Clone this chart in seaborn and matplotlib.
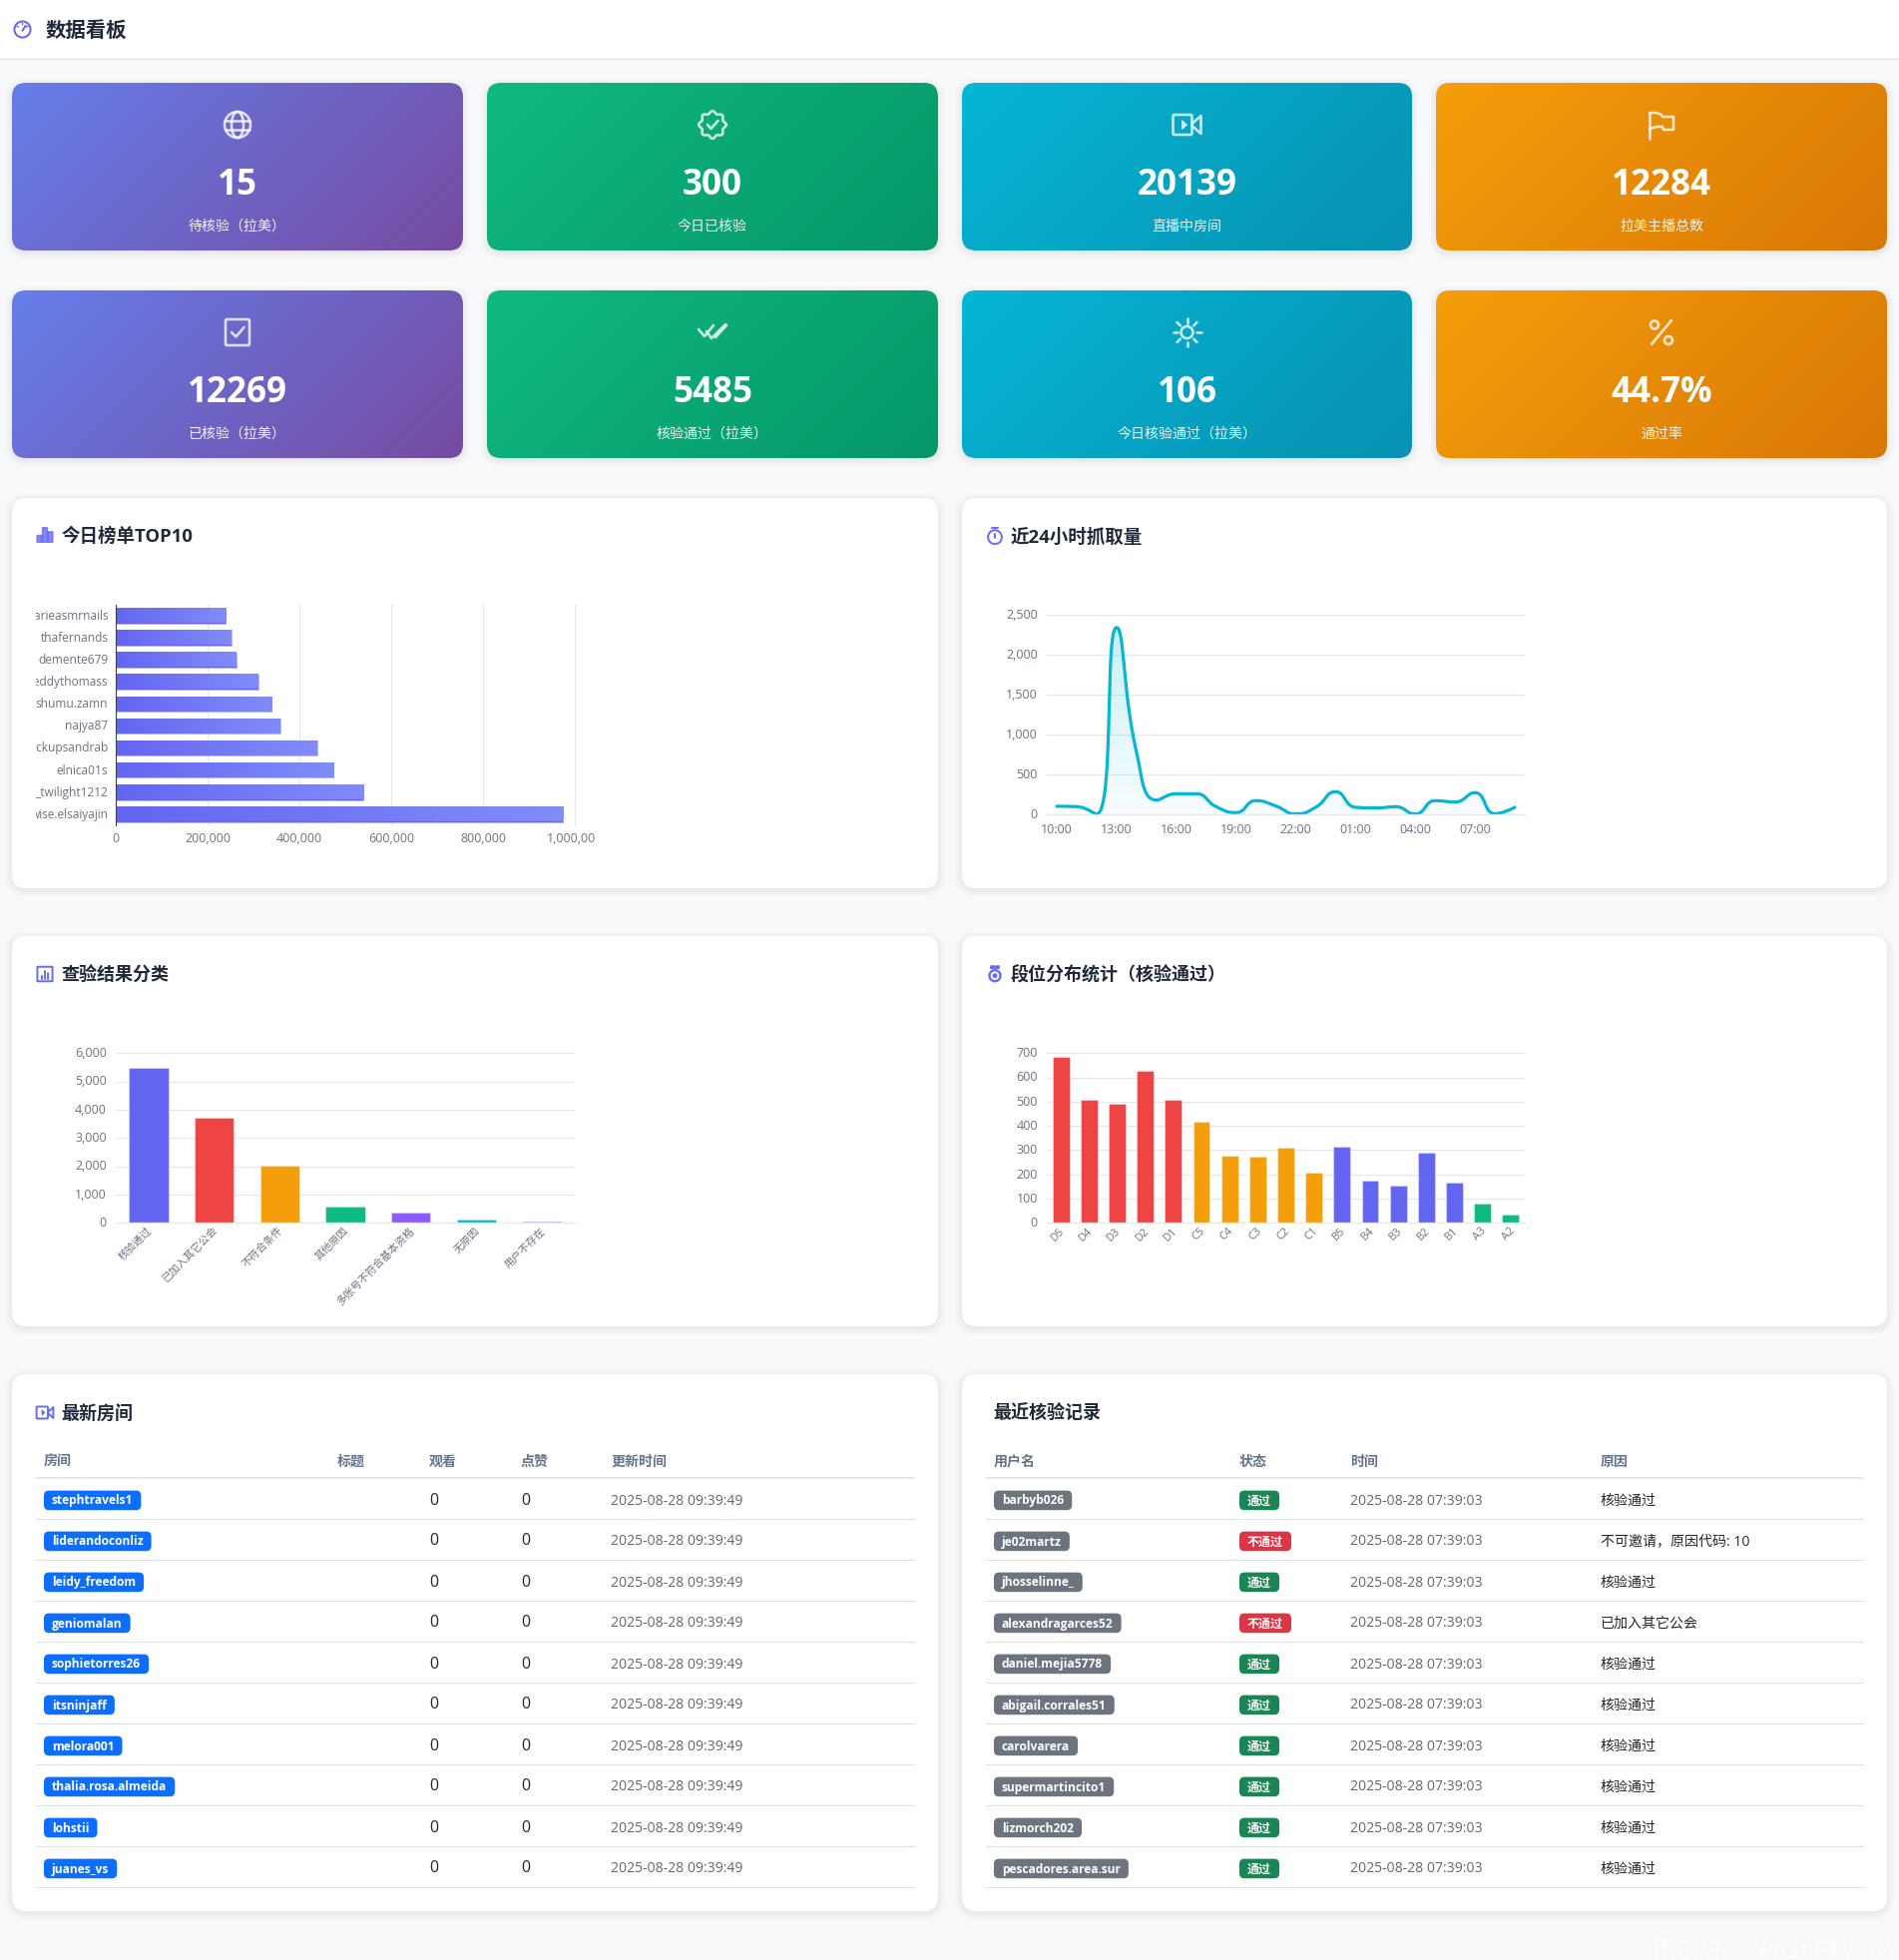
import numpy as np
import pandas as pd
import matplotlib
matplotlib.use("Agg")
import matplotlib.pyplot as plt
import seaborn as sns
from matplotlib.patches import FancyBboxPatch, Rectangle, Circle, Ellipse, Polygon
from matplotlib.lines import Line2D
from matplotlib.transforms import Bbox, ScaledTranslation
from matplotlib.ticker import FixedLocator, NullFormatter

# ---------------- data ----------------
stat_values = ["15", "300", "20139", "12284", "12269", "5485", "106", "44.7%"]
stat_labels = ["待核验（拉美）", "今日已核验", "直播中房间", "拉美主播总数",
               "已核验（拉美）", "核验通过（拉美）", "今日核验通过（拉美）", "通过率"]
top_names = ["marieasmrnails", "thafernands", "demente679", "freddythomass", "shumu.zamn",
             "najya87", "pickupsandrab", "elnica01s", "_twilight1212", "wise.elsaiyajin"]
top_values = [240000, 252000, 262000, 310000, 340000, 358000, 439000, 474000, 540000, 974000]
top_ticks = [0, 200000, 400000, 600000, 800000, 1000000]

hours = ["10:00", "11:00", "12:00", "13:00", "14:00", "15:00", "16:00", "17:00",
         "18:00", "19:00", "20:00", "21:00", "22:00", "23:00", "00:00", "01:00",
         "02:00", "03:00", "04:00", "05:00", "06:00", "07:00", "08:00", "09:00"]
hour_counts = [105, 100, 5, 2345, 790, 183, 262, 262, 100, 25, 175, 108,
               8, 92, 287, 92, 83, 100, 8, 175, 158, 275, 12, 92]
hour_ticks = [0, 500, 1000, 1500, 2000, 2500]

result_names = ["核验通过", "已加入其它公会", "不符合条件", "其他原因", "多账号不符合基本资格", "无原因", "用户不存在"]
result_counts = [5485, 3700, 2040, 570, 375, 110, 40]
result_colors = ["#6366f1", "#ef4444", "#f59e0b", "#10b981", "#8b5cf6", "#06b6d4", "#6366f1"]
result_ticks = [0, 1000, 2000, 3000, 4000, 5000, 6000]

tier_names = ["D5", "D4", "D3", "D2", "D1", "C5", "C4", "C3", "C2", "C1", "B5", "B4", "B3", "B2", "B1", "A3", "A2"]
tier_counts = [683, 506, 490, 626, 506, 416, 278, 273, 309, 206, 313, 176, 152, 291, 166, 80, 33]
tier_ticks = [0, 100, 200, 300, 400, 500, 600, 700]
tier_palette = {"D": "#ef4444", "C": "#f59e0b", "B": "#6366f1", "A": "#10b981"}

rooms = ["stephtravels1", "liderandoconliz", "leidy_freedom", "geniomalan", "sophietorres26",
         "itsninjaff", "melora001", "thalia.rosa.almeida", "lohstii", "juanes_vs"]
room_views = [0] * 10
room_likes = [0] * 10
room_times = ["2025-08-28 09:39:49"] * 10

users = ["barbyb026", "je02martz", "jhosselinne_", "alexandragarces52", "daniel.mejia5778",
         "abigail.corrales51", "carolvarera", "supermartincito1", "lizmorch202", "pescadores.area.sur"]
user_status = ["通过", "不通过", "通过", "不通过", "通过", "通过", "通过", "通过", "通过", "通过"]
user_times = ["2025-08-28 07:39:03"] * 10
user_reasons = ["核验通过", "不可邀请，原因代码: 10", "核验通过", "已加入其它公会", "核验通过",
                "核验通过", "核验通过", "核验通过", "核验通过", "核验通过"]

# ---------------- canvas ----------------
W, H = 1903, 1964
sns.set_theme(style="white")
plt.rcParams["font.family"] = ["Open Sans", "Noto Sans CJK SC", "DejaVu Sans"]
plt.rcParams["axes.unicode_minus"] = False
PX = 0.72  # px -> pt at dpi 100
BG = "#f8f9fa"
GRID = "#e5e7eb"
TICK = "#6b7280"
DARK = "#1f2937"
INDIGO = "#6366f1"

fig = plt.figure(figsize=(W / 100, H / 100), dpi=100, facecolor=BG)
bg = fig.add_axes([0, 0, 1, 1], zorder=0)
bg.set_xlim(0, W)
bg.set_ylim(H, 0)
bg.axis("off")


def rrect(x0, y0, x1, y1, r, **kw):
    p = FancyBboxPatch((x0 + r, y0 + r), x1 - x0 - 2 * r, y1 - y0 - 2 * r,
                       boxstyle=f"round,pad={r},rounding_size={r}", **kw)
    bg.add_patch(p)
    return p


def shadow(x0, y0, x1, y1, r):
    for k in range(1, 9):
        rrect(x0 - k + 1, y0 - k + 3, x1 + k - 1, y1 + k + 1, r + k,
              facecolor="black", edgecolor="none", alpha=0.0065, zorder=1)


def gradient_card(x0, y0, x1, y1, c0, c1, r=14):
    shadow(x0, y0, x1, y1, r)
    w, h = int(x1 - x0), int(y1 - y0)
    yy, xx = np.mgrid[0:h, 0:w]
    t = ((xx - w / 2) + (yy - h / 2)) / (w + h) + 0.5
    a = np.array(matplotlib.colors.to_rgb(c0))
    b = np.array(matplotlib.colors.to_rgb(c1))
    img = a[None, None, :] * (1 - t[..., None]) + b[None, None, :] * t[..., None]
    clip = rrect(x0, y0, x1, y1, r, facecolor="none", edgecolor="none", zorder=2)
    im = bg.imshow(img, extent=[x0, x1, y1, y0], aspect="auto", zorder=2, interpolation="bilinear")
    im.set_clip_path(clip)
    bg.set_xlim(0, W)
    bg.set_ylim(H, 0)


def white_card(x0, y0, x1, y1, r=14):
    shadow(x0, y0, x1, y1, r)
    rrect(x0, y0, x1, y1, r, facecolor="white", edgecolor="none", zorder=2)


# ---------------- icons ----------------
def ln(xs, ys, cx, cy, s, c, a, lw=2.6):
    bg.add_line(Line2D([cx + s * x for x in xs], [cy + s * y for y in ys], color=c, alpha=a,
                       lw=lw * PX, solid_capstyle="round", solid_joinstyle="round", zorder=4))


def ring(x, y, r, cx, cy, s, c, a, lw=2.6):
    bg.add_patch(Circle((cx + s * x, cy + s * y), s * r, fill=False, edgecolor=c, alpha=a, lw=lw * PX, zorder=4))


def box(x0, y0, x1, y1, cx, cy, s, c, a, lw=2.6, fill=False, rad=1.5):
    rrect(cx + s * x0, cy + s * y0, cx + s * x1, cy + s * y1, rad * s,
          fill=fill, facecolor=c if fill else "none", edgecolor=c, alpha=a, lw=lw * PX, zorder=4)


def ic_globe(cx, cy, s, c, a):
    ring(0, 0, 13, cx, cy, s, c, a)
    bg.add_patch(Ellipse((cx, cy), 12 * s, 26 * s, fill=False, edgecolor=c, alpha=a, lw=2.6 * PX, zorder=4))
    ln([-12, 12], [-4.5, -4.5], cx, cy, s, c, a)
    ln([-12, 12], [4.5, 4.5], cx, cy, s, c, a)


def ic_patch(cx, cy, s, c, a):
    th = np.linspace(0, 2 * np.pi, 200)
    r = 12.5 + 1.3 * np.cos(8 * th)
    ln(r * np.cos(th), r * np.sin(th), cx, cy, s, c, a)
    ln([-5, -1.5, 5.5], [0, 4, -4], cx, cy, s, c, a)


def ic_video(cx, cy, s, c, a, lw=2.6):
    box(-14, -10, 5, 10, cx, cy, s, c, a, lw=lw)
    bg.add_patch(Polygon([(cx - 5 * s, cy - 4.5 * s), (cx, cy), (cx - 5 * s, cy + 4.5 * s)], closed=True,
                         facecolor=c, edgecolor=c, alpha=a, lw=0.8 * PX, zorder=4))
    ln([5, 14, 14, 5], [-1, -9, 9, 1], cx, cy, s, c, a, lw=lw)


def ic_video_small(cx, cy, s, c, a):
    ic_video(cx, cy, s, c, a, lw=2.0)


def ic_flag(cx, cy, s, c, a):
    ln([-12, -12], [-12, 14], cx, cy, s, c, a)
    ln([-12, -5, 0, 1, 12, 12, 2, 1, -5, -12], [-12, -12, -10, -8, -8, 5, 5, 2, 2, 4], cx, cy, s, c, a)


def ic_check_sq(cx, cy, s, c, a):
    box(-12, -13, 12, 13, cx, cy, s, c, a)
    ln([-6, -1.5, 6.5], [0, 4.5, -5], cx, cy, s, c, a)


def ic_check2(cx, cy, s, c, a):
    ln([-14, -8, 1], [-3, 4, -7], cx, cy, s, c, a)
    ln([-6, -1, 13], [-1, 6, -8], cx, cy, s, c, a)
    ln([3, 14], [5, -7], cx, cy, s, c, a)


def ic_sun(cx, cy, s, c, a):
    ring(0, 0, 6, cx, cy, s, c, a)
    for t in np.arange(8) * np.pi / 4:
        ln([9.5 * np.cos(t), 14 * np.cos(t)], [9.5 * np.sin(t), 14 * np.sin(t)], cx, cy, s, c, a)


def ic_percent(cx, cy, s, c, a):
    ring(-7, -7.5, 4, cx, cy, s, c, a)
    ring(7, 8, 4, cx, cy, s, c, a)
    ln([-10, 10], [12, -12], cx, cy, s, c, a)


def ic_bars(cx, cy, s, c, a):
    for x0, x1, t in [(-13, -5, 1), (-4, 4, -12), (5, 13, -5)]:
        box(x0, t, x1, 12, cx, cy, s, c, a * 0.8, lw=1.6, fill=True, rad=0.5)


def ic_watch(cx, cy, s, c, a):
    ring(0, 2, 11.5, cx, cy, s, c, a, lw=2)
    ln([-5, 5], [-13, -13], cx, cy, s, c, a, lw=2)
    ln([0, 0], [-3, 3], cx, cy, s, c, a, lw=2)


def ic_chartbox(cx, cy, s, c, a):
    box(-13, -12.5, 13, 12.5, cx, cy, s, c, a, lw=2, rad=0.5)
    ln([-6, -6], [8, 3], cx, cy, s, c, a, lw=2)
    ln([0, 0], [8, -6], cx, cy, s, c, a, lw=2)
    ln([6, 6], [8, -1], cx, cy, s, c, a, lw=2)


def ic_medal(cx, cy, s, c, a):
    ring(0, 4, 10, cx, cy, s, c, a, lw=2.4)
    bg.add_patch(Circle((cx, cy + 4 * s), 4.5 * s, facecolor=c, alpha=a, edgecolor="none", zorder=4))
    box(-8, -14, -1, -9, cx, cy, s, c, a, lw=1, fill=True, rad=0.5)
    box(1, -14, 8, -9, cx, cy, s, c, a, lw=1, fill=True, rad=0.5)


def ic_gauge(cx, cy, s, c, a):
    ring(0, 0, 13, cx, cy, s, c, a, lw=2)
    ln([0, 5], [2, -6], cx, cy, s, c, a, lw=2)
    for t in (-2.6, -1.57, -0.55):
        ln([8 * np.cos(t), 10 * np.cos(t)], [8 * np.sin(t), 10 * np.sin(t)], cx, cy, s, c, a, lw=1.5)


# ---------------- header ----------------
bg.add_patch(Rectangle((0, 0), W, 58, facecolor="white", edgecolor="none", zorder=1))
bg.add_line(Line2D([0, W], [58.5, 58.5], color="#e2e4e8", lw=1.4 * PX, zorder=1))
ic_gauge(22.5, 29.5, 0.62, INDIGO, 1)
bg.text(46, 31.5, "数据看板", fontsize=20.4 * PX, fontweight="bold", color=DARK, va="center", ha="left", zorder=5)

# ---------------- stat cards ----------------
col_x = [(12, 464), (488, 940), (964, 1415), (1439, 1891)]
row_y = [(83, 251), (291, 459)]
card_colors = [("#667eea", "#764ba2"), ("#10b981", "#059669"), ("#06b6d4", "#0891b2"), ("#f59e0b", "#d97706")]
icon_fns = [ic_globe, ic_patch, ic_video, ic_flag, ic_check_sq, ic_check2, ic_sun, ic_percent]
for i in range(8):
    r, c = divmod(i, 4)
    x0, x1 = col_x[c]
    y0, y1 = row_y[r]
    gradient_card(x0, y0, x1, y1, *card_colors[c])
    cx = (x0 + x1) / 2
    icon_fns[i](cx, y0 + 42, 1.0, "white", 0.78)
    bg.text(cx, y0 + 102.5, stat_values[i], color="white", fontsize=35 * PX, fontweight="bold",
            ha="center", va="center", zorder=5)
    bg.text(cx, y0 + 144, stat_labels[i], color="white", alpha=0.92, fontsize=14 * PX,
            ha="center", va="center", zorder=5)

# ---------------- chart cards ----------------
panels = [(12, 499, 940, 890), (964, 499, 1891, 890), (12, 938, 940, 1329), (964, 938, 1891, 1329),
          (12, 1377, 940, 1915), (964, 1377, 1891, 1915)]
for p in panels:
    white_card(*p)


def card_title(x, y, text, icon=None, ix=None, s=0.6, size=18.0):
    if icon is not None:
        icon(ix, y, s, INDIGO, 0.95)
    bg.text(x, y + 2, text, fontsize=size * PX, fontweight="bold", color=DARK, va="center", ha="left", zorder=5)


card_title(62, 536, "今日榜单TOP10", ic_bars, 45, size=18.5)
card_title(1013, 537, "近24小时抓取量", ic_watch, 997, size=18.5)
card_title(62, 976, "查验结果分类", ic_chartbox, 45, 0.58)
card_title(1013, 975.5, "段位分布统计（核验通过）", ic_medal, 997, 0.55)
card_title(61, 1415.5, "最新房间", ic_video_small, 45, 0.6)
card_title(995, 1415, "最近核验记录")


def chart_ax(l, t, r, b):
    ax = fig.add_axes([l / W, 1 - b / H, (r - l) / W, (b - t) / H], zorder=3)
    ax.patch.set_alpha(0)
    for s in ax.spines.values():
        s.set_visible(False)
    ax.set_xlabel("")
    ax.set_ylabel("")
    return ax


def band_ticks(axis, n, color, length=6):
    axis.set_minor_locator(FixedLocator(np.arange(n + 1) - 0.5))
    axis.set_minor_formatter(NullFormatter())
    axis.set_tick_params(which="minor", length=length * PX, width=1.2 * PX, color=color)
    axis.set_tick_params(which="major", length=0)


LABEL = 12.5 * PX
NUDGE = ScaledTranslation(0, 1.2 / 100, fig.dpi_scale_trans)
NUDGE_RIGHT = ScaledTranslation(2.2 / 100, 0, fig.dpi_scale_trans)


def nudge(labels, tr=NUDGE):
    for lab in labels:
        lab.set_transform(lab.get_transform() + tr)


def clip_labels(labels, x0, x1, y0, y1):
    box_ = Bbox([[x0, H - y1], [x1, H - y0]])
    for lab in labels:
        lab.set_clip_box(box_)
        lab.set_clip_on(True)


# --- TOP10 horizontal bars
ax1 = chart_ax(116, 606, 576, 827)
sns.barplot(x=top_values, y=top_names, ax=ax1, color=INDIGO, orient="h", width=0.7, saturation=1,
            edgecolor="#b3b6fa", linewidth=1.0 * PX)
ax1.set_xlim(0, 1000000)
ax1.set_ylim(len(top_names) - 0.5, -0.5)
ax1.set_axisbelow(True)
ax1.xaxis.grid(True, color=GRID, lw=1.2 * PX)
ax1.set_xticks(top_ticks)
ax1.set_xticklabels([f"{v:,}" for v in top_ticks], color=TICK, fontsize=LABEL)
ax1.tick_params(axis="x", length=0, pad=5)
band_ticks(ax1.yaxis, len(top_names), "#374151")
ax1.spines["left"].set_visible(True)
ax1.spines["left"].set_color("#374151")
ax1.spines["left"].set_linewidth(1.1 * PX)
ax1.tick_params(axis="y", which="major", pad=5.5, labelsize=11.9 * PX, labelcolor=TICK)
for bar in ax1.patches:
    bb = bar.get_bbox()
    g = np.linspace(0, 1, 128)[None, :, None]
    c0, c1 = np.array(matplotlib.colors.to_rgb("#6366f1")), np.array(matplotlib.colors.to_rgb("#818cf8"))
    img = c0[None, None, :] * (1 - g) + c1[None, None, :] * g
    ax1.imshow(img, extent=[bb.x0, bb.x1, bb.y1 - 0.03, bb.y0 + 0.03], aspect="auto", zorder=bar.get_zorder() + 0.1)
ax1.set_xlim(0, 1000000)
ax1.set_ylim(len(top_names) - 0.5, -0.5)
for gl in ax1.get_xgridlines():
    gl.set_clip_on(False)
clip_labels(ax1.get_yticklabels(), 36, 600, 600, 840)
clip_labels(ax1.get_xticklabels(), 36, 597, 825, 860)
nudge(ax1.get_yticklabels())


# --- 24h smoothed line
def echarts_smooth(xs, ys, smooth=0.5, sub=24):
    """Bezier rendering of the series in pixel space, as ECharts' smooth line does."""
    n = len(xs)
    out_x, out_y = [xs[0]], [ys[0]]
    cp0x, cp0y = xs[0], ys[0]
    for i in range(1, n):
        x, y = xs[i], ys[i]
        px, py = xs[i - 1], ys[i - 1]
        if i + 1 >= n:
            cp1x, cp1y, ncx, ncy = x, y, x, y
        else:
            nx, ny = xs[i + 1], ys[i + 1]
            vx, vy = nx - px, ny - py
            lp = np.hypot(x - px, y - py)
            ln_ = np.hypot(x - nx, y - ny)
            ratio = ln_ / (ln_ + lp)
            ncx = max(min(x + vx * smooth * ratio, max(nx, x)), min(nx, x))
            ncy = max(min(y + vy * smooth * ratio, max(ny, y)), min(ny, y))
            vx, vy = ncx - x, ncy - y
            cp1x = max(min(x - vx * lp / ln_, max(px, x)), min(px, x))
            cp1y = max(min(y - vy * lp / ln_, max(py, y)), min(py, y))
            vx, vy = x - cp1x, y - cp1y
            ncx, ncy = x + vx * ln_ / lp, y + vy * ln_ / lp
        for t in np.linspace(0, 1, sub + 1)[1:]:
            m = 1 - t
            out_x.append(m**3 * px + 3 * m * m * t * cp0x + 3 * m * t * t * cp1x + t**3 * x)
            out_y.append(m**3 * py + 3 * m * m * t * cp0y + 3 * m * t * t * cp1y + t**3 * y)
        cp0x, cp0y = ncx, ncy
    return np.array(out_x), np.array(out_y)


ax2 = chart_ax(1049, 616.3, 1528, 816.3)
df_hours = pd.DataFrame({"slot": np.arange(len(hours)), "count": hour_counts})
sns.lineplot(data=df_hours, x="slot", y="count", ax=ax2, color="#06b6d4", linewidth=3.2 * PX, errorbar=None)
ax2.set_xlabel("")
ax2.set_ylabel("")
ax2.set_xlim(-0.5, len(hours) - 0.5)
ax2.set_ylim(0, 2500)
line = ax2.lines[0]
raw = line.get_xydata()
XS, YS = 20.0, 200 / 2500  # px per slot, px per unit: smoothing runs in pixel space
sx, sy = echarts_smooth(raw[:, 0] * XS, raw[:, 1] * YS)
sx, sy = sx / XS, sy / YS
line.set_data(sx, sy)
line.set_solid_capstyle("round")
line.set_clip_on(False)
area = Polygon(np.column_stack([np.r_[sx, sx[-1], sx[0]], np.r_[sy, 0, 0]]), closed=True,
               facecolor="none", edgecolor="none", transform=ax2.transData)
ax2.add_patch(area)
alpha = np.linspace(0.22, 0.03, 128)[:, None]
rgba = np.zeros((128, 1, 4))
rgba[..., :3] = matplotlib.colors.to_rgb("#06b6d4")
rgba[..., 3] = alpha
im = ax2.imshow(rgba, extent=[sx[0], sx[-1], 0, sy.max()], aspect="auto", zorder=1, interpolation="bilinear")
im.set_clip_path(area)
ax2.set_xlim(-0.5, len(hours) - 0.5)
ax2.set_ylim(0, 2500)
ax2.set_axisbelow(True)
ax2.yaxis.grid(True, color="#e2e8f0", lw=1.2 * PX)
ax2.set_yticks(hour_ticks)
ax2.set_yticklabels([f"{v:,}" for v in hour_ticks], color=TICK, fontsize=LABEL)
ax2.tick_params(axis="y", length=0, pad=6.5)
ax2.set_xticks(np.arange(0, len(hours), 3))
ax2.set_xticklabels(hours[::3], color=TICK, fontsize=LABEL)
ax2.xaxis.set_minor_locator(FixedLocator(np.arange(-0.5, len(hours), 3)))
ax2.xaxis.set_minor_formatter(NullFormatter())
ax2.tick_params(axis="x", which="minor", length=5 * PX, width=1.2 * PX, color="#e2e8f0")
ax2.tick_params(axis="x", which="major", length=0, pad=6)
ax2.spines["bottom"].set_visible(True)
ax2.spines["bottom"].set_color("#e2e8f0")
ax2.spines["bottom"].set_linewidth(1.2 * PX)
nudge(ax2.get_yticklabels())


# --- vertical bar charts
def column_chart(ax, names, values, colors, ticks, size):
    df = pd.DataFrame({"name": names, "value": values, "group": names})
    sns.barplot(data=df, x="name", y="value", hue="group", palette=dict(zip(names, colors)), dodge=False,
                legend=False, ax=ax, width=0.6, saturation=1, edgecolor=(1, 1, 1, 0.35), linewidth=1.2 * PX)
    ax.set_xlabel("")
    ax.set_ylabel("")
    ax.set_ylim(0, ticks[-1])
    ax.set_xlim(-0.5, len(names) - 0.5)
    ax.set_axisbelow(True)
    ax.yaxis.grid(True, color=GRID, lw=1.2 * PX)
    ax.set_yticks(ticks)
    ax.set_yticklabels([f"{v:,}" for v in ticks], color=TICK, fontsize=LABEL)
    ax.tick_params(axis="y", length=0, pad=6.5)
    ax.set_xticks(np.arange(len(names)))
    ax.set_xticklabels(names, color=TICK, fontsize=size, rotation=45, ha="right", va="center", rotation_mode="anchor")
    band_ticks(ax.xaxis, len(names), GRID)
    ax.tick_params(axis="x", which="major", pad=4.7)
    ax.spines["bottom"].set_visible(True)
    ax.spines["bottom"].set_color(GRID)
    ax.spines["bottom"].set_linewidth(1.2 * PX)
    nudge(ax.get_yticklabels())
    nudge(ax.get_xticklabels(), NUDGE_RIGHT)


ax3 = chart_ax(116, 1055.3, 576, 1225.3)
column_chart(ax3, result_names, result_counts, result_colors, result_ticks, 10.5 * PX)
ax4 = chart_ax(1049, 1055.3, 1528, 1225.3)
column_chart(ax4, tier_names, tier_counts, [tier_palette[n[0]] for n in tier_names], tier_ticks, 11 * PX)

# ---------------- tables ----------------
HEAD_Y, HEAD_LINE, ROW0, STEP = 1465, 1481, 1503, 41.0
renderer = fig.canvas.get_renderer()


def badge(x, y, text, color, pad=8.0, h=19.6):
    t = bg.text(x + pad, y + 1, text, color="white", fontsize=12 * PX, fontweight="bold", va="center", ha="left", zorder=6)
    ext = t.get_window_extent(renderer)
    rrect(x, y + 0.4 - h / 2, x + ext.width + 2 * pad, y + 0.4 + h / 2, 5, facecolor=color, edgecolor="none", zorder=5)


def table_frame(x0, x1, heads, xs):
    for hd, hx in zip(heads, xs):
        bg.text(hx, HEAD_Y, hd, fontsize=14 * PX, fontweight="bold", color="#64748b", va="center", ha="left", zorder=5)
    bg.add_line(Line2D([x0, x1], [HEAD_LINE, HEAD_LINE], color="#dee2e6", lw=1.6 * PX, zorder=4))
    for i in range(10):
        y = HEAD_LINE + STEP * (i + 1)
        bg.add_line(Line2D([x0, x1], [y, y], color="#dee2e6", lw=1.1 * PX, zorder=4))


table_frame(36, 915.5, ["房间", "标题", "观看", "点赞", "更新时间"], [43.5, 337.5, 429.5, 521.5, 612.5])
for i, room in enumerate(rooms):
    y = ROW0 + STEP * i
    badge(44, y, room, "#0d6efd")
    bg.text(430, y + 0.5, str(room_views[i]), fontsize=16 * PX, color="#212529", va="center", zorder=5)
    bg.text(522, y + 0.5, str(room_likes[i]), fontsize=16 * PX, color="#212529", va="center", zorder=5)
    bg.text(612.5, y + 1, room_times[i], fontsize=14 * PX, color="#5f6770", va="center", zorder=5)

table_frame(988, 1867, ["用户名", "状态", "时间", "原因"], [995.5, 1241.5, 1353, 1604])
for i, user in enumerate(users):
    y = ROW0 + STEP * i
    badge(996, y, user, "#6c757d")
    badge(1242, y, user_status[i], "#198754" if user_status[i] == "通过" else "#dc3545")
    bg.text(1353, y + 1, user_times[i], fontsize=14 * PX, color="#5f6770", va="center", zorder=5)
    bg.text(1604, y + 1, user_reasons[i], fontsize=14 * PX, color="#212529", va="center", zorder=5)

bg.text(1657, 1955, "雨夜轩", fontsize=24 * PX, family=["Noto Sans CJK SC"], color="white", alpha=0.6, va="center", zorder=5)
bg.text(1763, 1955, "RainFly.CN", fontsize=23 * PX, family=["Liberation Mono"], color="white", alpha=0.6, va="center", zorder=5)

fig.savefig("out.png", dpi=100, facecolor=BG)
